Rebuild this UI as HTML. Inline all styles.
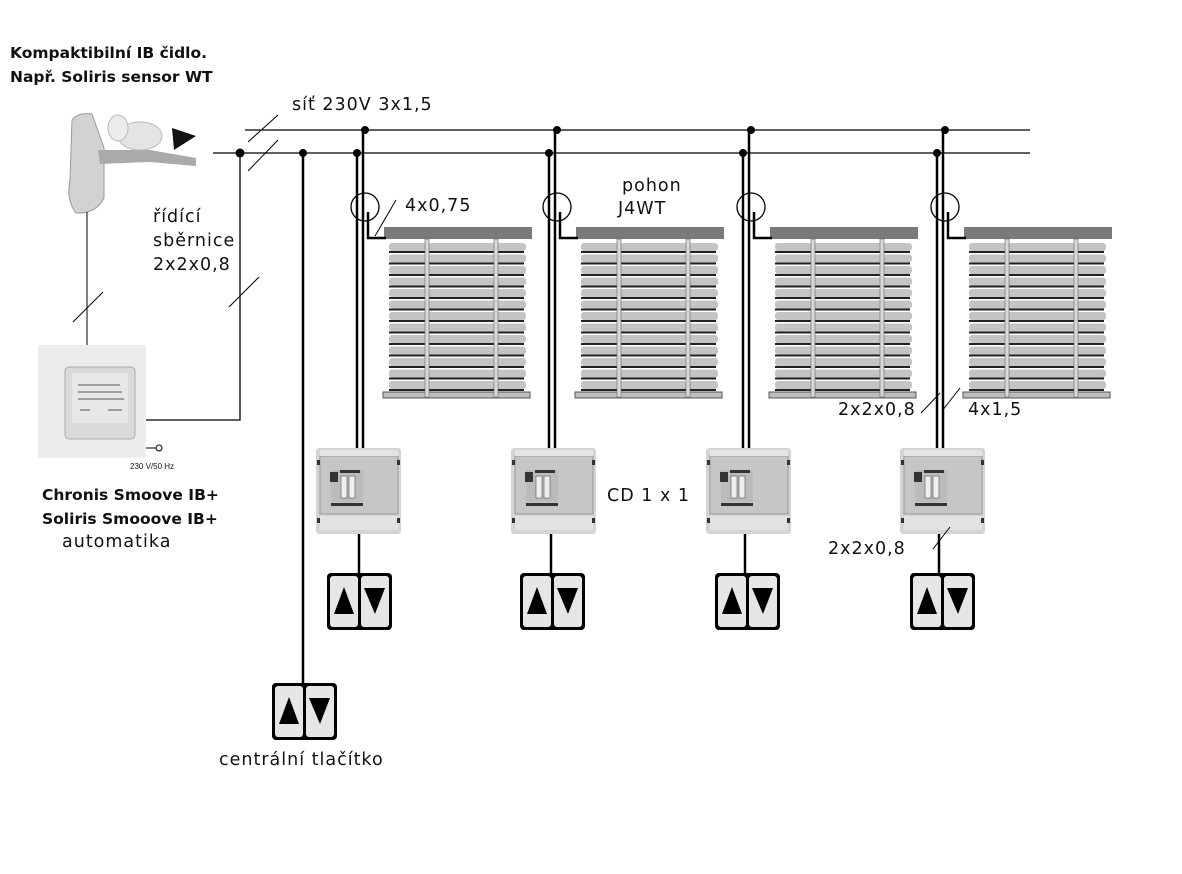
<!DOCTYPE html>
<html><head><meta charset="utf-8"><style>
html,body{margin:0;padding:0;background:#fff;width:1182px;height:874px;overflow:hidden}
svg{display:block}
text{font-family:"DejaVu Sans","Liberation Sans",sans-serif;fill:#111;letter-spacing:1px}
.b{font-family:"DejaVu Sans","Liberation Sans",sans-serif;font-weight:bold;letter-spacing:0}
</style></head><body>
<svg width="1182" height="874" viewBox="0 0 1182 874" xmlns="http://www.w3.org/2000/svg">
<defs>
<g id="blind">
  <rect x="384" y="227" width="148" height="12" fill="#7a7a7a"/>
  <g fill="#c4c4c4">
    <rect x="389" y="243" width="137" height="8" rx="3"/>
    <rect x="389" y="254.5" width="137" height="8" rx="3"/>
    <rect x="389" y="266" width="137" height="8" rx="3"/>
    <rect x="389" y="277.5" width="137" height="8" rx="3"/>
    <rect x="389" y="289" width="137" height="8" rx="3"/>
    <rect x="389" y="300.5" width="137" height="8" rx="3"/>
    <rect x="389" y="312" width="137" height="8" rx="3"/>
    <rect x="389" y="323.5" width="137" height="8" rx="3"/>
    <rect x="389" y="335" width="137" height="8" rx="3"/>
    <rect x="389" y="346.5" width="137" height="8" rx="3"/>
    <rect x="389" y="358" width="137" height="8" rx="3"/>
    <rect x="389" y="369.5" width="137" height="8" rx="3"/>
    <rect x="389" y="381" width="137" height="8" rx="3"/>
  </g>
  <g fill="#222">
    <rect x="389" y="251" width="135" height="2"/>
    <rect x="389" y="262.5" width="135" height="2"/>
    <rect x="389" y="274" width="135" height="2"/>
    <rect x="389" y="285.5" width="135" height="2"/>
    <rect x="389" y="297" width="135" height="2"/>
    <rect x="389" y="308.5" width="135" height="2"/>
    <rect x="389" y="320" width="135" height="2"/>
    <rect x="389" y="331.5" width="135" height="2"/>
    <rect x="389" y="343" width="135" height="2"/>
    <rect x="389" y="354.5" width="135" height="2"/>
    <rect x="389" y="366" width="135" height="2"/>
    <rect x="389" y="377.5" width="135" height="2"/>
    <rect x="389" y="389" width="135" height="2"/>
  </g>
  <rect x="383" y="392" width="147" height="6" fill="#bdbdbd" stroke="#555" stroke-width="1"/>
  <rect x="425" y="239" width="4" height="158" fill="#d8d8d8" stroke="#666" stroke-width="0.6"/>
  <rect x="494" y="239" width="4" height="158" fill="#d8d8d8" stroke="#666" stroke-width="0.6"/>
  <circle cx="365" cy="207" r="14" fill="none" stroke="#000" stroke-width="1.3"/>
  <polyline points="368,212 368,238 386,238" fill="none" stroke="#000" stroke-width="2.5"/>
  <line x1="357" y1="153" x2="357" y2="450" stroke="#000" stroke-width="2.5"/>
  <line x1="363" y1="130" x2="363" y2="450" stroke="#000" stroke-width="2.5"/>
  <circle cx="365" cy="130" r="4"/>
  <circle cx="357" cy="153" r="4"/>
  <line x1="359" y1="532" x2="359" y2="574" stroke="#000" stroke-width="2.5"/>
</g>
<g id="box">
  <rect x="316" y="448" width="85" height="86" rx="3" fill="#d4d4d4"/>
  <rect x="320" y="456" width="78" height="58" fill="#c6c6c6" stroke="#999" stroke-width="1"/>
  <rect x="331" y="470" width="32" height="32" fill="#bbb"/>
  <rect x="330" y="472" width="8" height="10" fill="#333"/>
  <rect x="341" y="476" width="6" height="22" fill="#eee" stroke="#555" stroke-width="0.6"/>
  <rect x="349" y="476" width="6" height="22" fill="#eee" stroke="#555" stroke-width="0.6"/>
  <rect x="331" y="503" width="32" height="3" fill="#333"/>
  <rect x="340" y="470" width="20" height="3" fill="#333"/>
  <rect x="320" y="516" width="78" height="14" fill="#e2e2e2"/>
  <rect x="320" y="450" width="78" height="6" fill="#e4e4e4"/>
  <rect x="317" y="460" width="3" height="5" fill="#333"/>
  <rect x="397" y="460" width="3" height="5" fill="#333"/>
  <rect x="317" y="518" width="3" height="5" fill="#333"/>
  <rect x="397" y="518" width="3" height="5" fill="#333"/>
</g>
<g id="sw">
  <rect x="327" y="573" width="65" height="57" rx="4" fill="#000"/>
  <rect x="330" y="576" width="28" height="51" rx="3" fill="#e6e6e6"/>
  <rect x="361" y="576" width="28" height="51" rx="3" fill="#e6e6e6"/>
  <polygon points="344,587 354,614 334,614" fill="#000"/>
  <polygon points="364,588 385,588 375,614" fill="#000"/>
</g>
</defs>

<line x1="245" y1="130" x2="1030" y2="130" stroke="#000" stroke-width="1.3"/>
<line x1="213" y1="153" x2="1030" y2="153" stroke="#000" stroke-width="1.3"/>
<line x1="248" y1="142" x2="278" y2="115" stroke="#000" stroke-width="1"/>
<line x1="248" y1="171" x2="278" y2="140" stroke="#000" stroke-width="1"/>
<circle cx="240" cy="153" r="4.5"/>
<polyline points="240,153 240,420 140,420" fill="none" stroke="#000" stroke-width="1.3"/>
<line x1="229" y1="307" x2="259" y2="277" stroke="#000" stroke-width="1"/>
<circle cx="303" cy="153" r="4"/>
<line x1="303" y1="153" x2="303" y2="685" stroke="#000" stroke-width="2.5"/>

<use href="#blind"/>
<use href="#blind" transform="translate(192,0)"/>
<use href="#blind" transform="translate(386,0)"/>
<use href="#blind" transform="translate(580,0)"/>
<use href="#box"/>
<use href="#box" transform="translate(195,0)"/>
<use href="#box" transform="translate(390,0)"/>
<use href="#box" transform="translate(584,0)"/>
<use href="#sw"/>
<use href="#sw" transform="translate(193,0)"/>
<use href="#sw" transform="translate(388,0)"/>
<use href="#sw" transform="translate(583,0)"/>
<use href="#sw" transform="translate(-55,110)"/>

<line x1="375" y1="236" x2="396" y2="200" stroke="#000" stroke-width="1"/>
<line x1="921" y1="413" x2="940" y2="393" stroke="#000" stroke-width="1"/>
<line x1="942" y1="411" x2="960" y2="388" stroke="#000" stroke-width="1"/>
<line x1="933" y1="549" x2="950" y2="527" stroke="#000" stroke-width="1"/>

<!-- sensor -->
<path d="M72 120 Q78 112 92 114 L104 148 L104 198 Q96 214 76 213 Q66 200 70 180 Z" fill="#d2d2d2" stroke="#999" stroke-width="1"/>
<path d="M98 150 L150 150 L196 158 L196 166 L150 162 L100 164 Z" fill="#aaa"/>
<ellipse cx="140" cy="136" rx="22" ry="14" fill="#e4e4e4" stroke="#bbb"/>
<ellipse cx="118" cy="128" rx="10" ry="13" fill="#ececec" stroke="#bbb"/>
<path d="M172 128 L196 136 L174 150 Z" fill="#111"/>
<line x1="87" y1="212" x2="87" y2="346" stroke="#000" stroke-width="1"/>
<line x1="73" y1="322" x2="103" y2="292" stroke="#000" stroke-width="1"/>

<!-- thermostat -->
<rect x="38" y="345" width="108" height="113" fill="#ececec"/>
<rect x="65" y="367" width="70" height="72" rx="4" fill="#d9d9d9" stroke="#aaa"/>
<rect x="72" y="373" width="56" height="50" fill="#e8e8e8"/>
<g stroke="#555" stroke-width="1"><line x1="78" y1="385" x2="120" y2="385"/><line x1="78" y1="392" x2="122" y2="392"/><line x1="78" y1="399" x2="124" y2="399"/><line x1="80" y1="410" x2="90" y2="410"/><line x1="108" y1="410" x2="122" y2="410"/></g>
<line x1="146" y1="448" x2="156" y2="448" stroke="#000" stroke-width="1"/>
<circle cx="159" cy="448" r="3" fill="#fff" stroke="#000"/>
<text x="130" y="469" font-size="8" style="font-family:'Liberation Sans',sans-serif;letter-spacing:0">230 V/50 Hz</text>

<text class="b" x="10" y="58" font-size="15.5">Kompaktibilní IB čidlo.</text>
<text class="b" x="10" y="82" font-size="15.5">Např. Soliris sensor WT</text>
<text x="292" y="110" font-size="17.5">síť 230V 3x1,5</text>
<text x="153" y="222" font-size="17.5">řídící</text>
<text x="153" y="246" font-size="17.5">sběrnice</text>
<text x="153" y="270" font-size="17.5">2x2x0,8</text>
<text x="405" y="211" font-size="17.5">4x0,75</text>
<text x="622" y="191" font-size="17.5">pohon</text>
<text x="618" y="214" font-size="17.5">J4WT</text>
<text x="607" y="501" font-size="17.5">CD 1 x 1</text>
<text x="838" y="415" font-size="17.5">2x2x0,8</text>
<text x="968" y="415" font-size="17.5">4x1,5</text>
<text x="828" y="554" font-size="17.5">2x2x0,8</text>
<text class="b" x="42" y="500" font-size="15.5">Chronis Smoove IB+</text>
<text class="b" x="42" y="524" font-size="15.5">Soliris Smooove IB+</text>
<text x="62" y="547" font-size="17.5">automatika</text>
<text x="219" y="765" font-size="17.5">centrální tlačítko</text>
</svg>
</body></html>
